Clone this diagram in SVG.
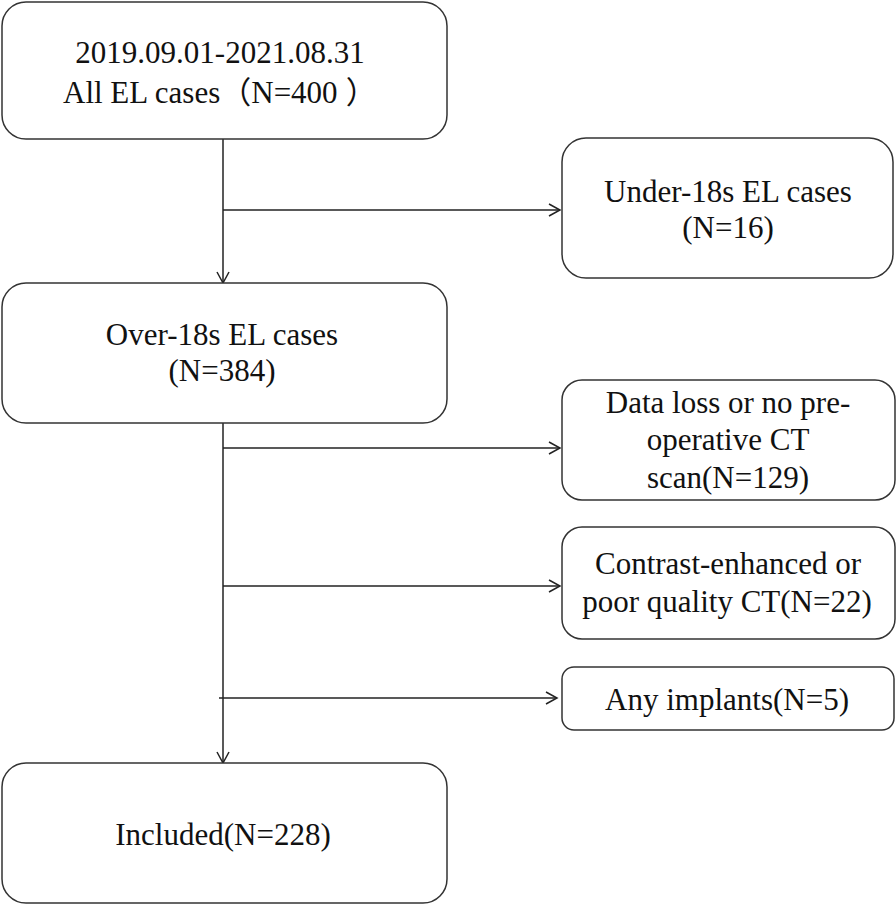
<svg xmlns="http://www.w3.org/2000/svg" width="896" height="904" viewBox="0 0 896 904">
<defs>
<style>
.box{fill:#fff;stroke:#333;stroke-width:1.5}
.t{font-family:"Liberation Serif","Times New Roman","Noto Sans CJK SC",serif;font-size:31px;fill:#111;text-anchor:middle}
.s{text-anchor:start}
.c{fill:none;stroke:#222;stroke-width:1.5}
</style>
<marker id="ah" markerWidth="14" markerHeight="14" refX="12" refY="7" orient="auto" markerUnits="userSpaceOnUse">
<path d="M1,1 L12,7 L1,13" fill="none" stroke="#222" stroke-width="1.5"/>
</marker>
</defs>
<rect width="896" height="904" fill="#fff"/>
<g id="connectors">
<line class="c" x1="223" y1="139" x2="223" y2="283" marker-end="url(#ah)"/>
<line class="c" x1="223" y1="210" x2="560" y2="210" marker-end="url(#ah)"/>
<line class="c" x1="223" y1="423" x2="223" y2="763" marker-end="url(#ah)"/>
<line class="c" x1="223" y1="448" x2="560" y2="448" marker-end="url(#ah)"/>
<line class="c" x1="223" y1="586" x2="560" y2="586" marker-end="url(#ah)"/>
<line class="c" x1="219" y1="698" x2="557" y2="698" marker-end="url(#ah)"/>
</g>
<g id="all">
<rect class="box" x="2" y="2" width="445" height="137" rx="24"/>
<text class="t" x="220" y="63">2019.09.01-2021.08.31</text>
<text class="t s" x="63" y="103">All EL cases（N=400<tspan dx="8">）</tspan></text>
</g>
<g id="under18">
<rect class="box" x="562" y="138" width="331" height="140" rx="24"/>
<text class="t" x="728" y="202">Under-18s EL cases</text>
<text class="t" x="728" y="238">(N=16)</text>
</g>
<g id="over18">
<rect class="box" x="2" y="283" width="445" height="140" rx="24"/>
<text class="t" x="222" y="345">Over-18s EL cases</text>
<text class="t" x="222" y="381">(N=384)</text>
</g>
<g id="dataloss">
<rect class="box" x="562" y="380" width="333" height="120" rx="20"/>
<text class="t" x="728" y="413">Data loss or no pre-</text>
<text class="t" x="728" y="450">operative CT</text>
<text class="t" x="728" y="488">scan(N=129)</text>
</g>
<g id="contrast">
<rect class="box" x="562" y="527" width="333" height="112" rx="20"/>
<text class="t" x="728" y="574">Contrast-enhanced or</text>
<text class="t" x="727" y="612">poor quality CT(N=22)</text>
</g>
<g id="implants">
<rect class="box" x="562" y="667" width="332" height="63" rx="12"/>
<text class="t" x="727" y="710">Any implants(N=5)</text>
</g>
<g id="included">
<rect class="box" x="2" y="763" width="445" height="140" rx="24"/>
<text class="t" x="223" y="845">Included(N=228)</text>
</g>
</svg>
